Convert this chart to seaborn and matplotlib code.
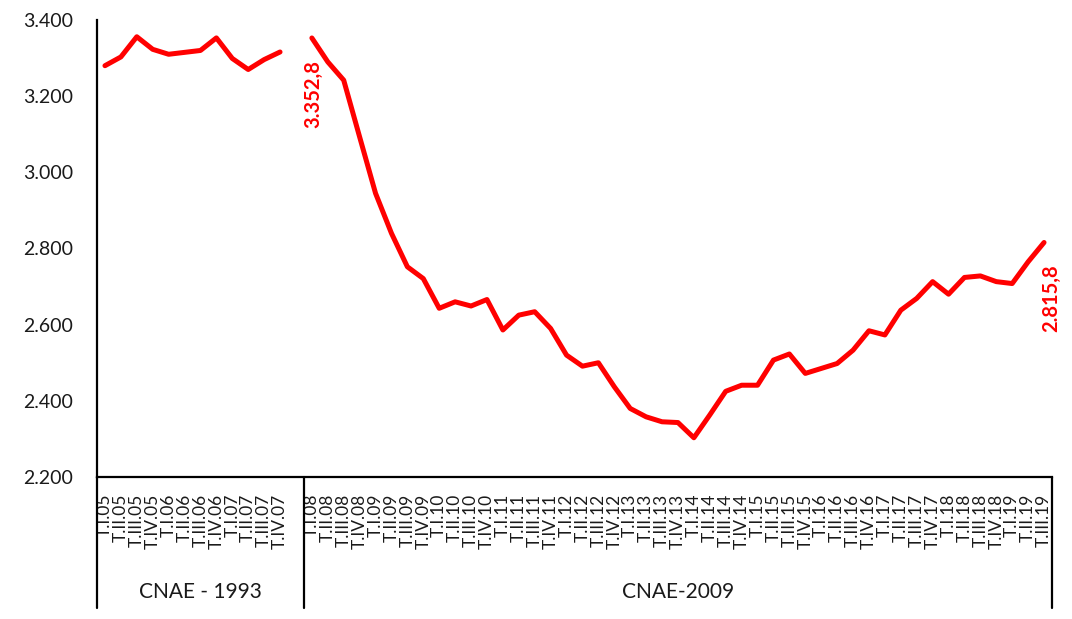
import numpy as np
import pandas as pd
import matplotlib
matplotlib.use("Agg")
import matplotlib.pyplot as plt
import matplotlib.transforms as mtransforms
import seaborn as sns

# ---- data ----
labels_1993 = ["T.I.05", "T.II.05", "T.III.05", "T.IV.05",
               "T.I.06", "T.II.06", "T.III.06", "T.IV.06",
               "T.I.07", "T.II.07", "T.III.07", "T.IV.07"]
values_1993 = [3280, 3303, 3356, 3323, 3310, 3315, 3320, 3353,
               3299, 3270, 3296, 3316]

labels_2009 = ["T.I.08", "T.II.08", "T.III.08", "T.IV.08",
               "T.I.09", "T.II.09", "T.III.09", "T.IV.09",
               "T.I.10", "T.II.10", "T.III.10", "T.IV.10",
               "T.I.11", "T.II.11", "T.III.11", "T.IV.11",
               "T.I.12", "T.II.12", "T.III.12", "T.IV.12",
               "T.I.13", "T.II.13", "T.III.13", "T.IV.13",
               "T.I.14", "T.II.14", "T.III.14", "T.IV.14",
               "T.I.15", "T.II.15", "T.III.15", "T.IV.15",
               "T.I.16", "T.II.16", "T.III.16", "T.IV.16",
               "T.I.17", "T.II.17", "T.III.17", "T.IV.17",
               "T.I.18", "T.II.18", "T.III.18", "T.IV.18",
               "T.I.19", "T.II.19", "T.III.19"]
values_2009 = [3352.8, 3290, 3242, 3093, 2945, 2840, 2752, 2721,
               2643, 2660, 2649, 2666, 2586, 2625, 2634, 2590,
               2520, 2491, 2500, 2437, 2380, 2358, 2345, 2343,
               2303, 2363, 2425, 2441, 2441, 2507, 2523, 2472,
               2485, 2498, 2533, 2584, 2573, 2638, 2669, 2713,
               2680, 2724, 2728, 2713, 2708, 2765, 2815.8]

group_names = ["CNAE - 1993", "CNAE-2009"]
yticks = [2200, 2400, 2600, 2800, 3000, 3200, 3400]
first_label = "3.352,8"
last_label = "2.815,8"

# category axis: group 1, one blank slot, group 2
categories = labels_1993 + [""] + labels_2009
n1 = len(labels_1993) + 1
df = pd.DataFrame({
    "pos": list(range(len(labels_1993))) + list(range(n1, n1 + len(labels_2009))),
    "value": values_1993 + values_2009,
    "grupo": [group_names[0]] * len(values_1993) + [group_names[1]] * len(values_2009),
})

# ---- style ----
sns.set_theme(style="white")
plt.rcParams["font.family"] = ["Lato", "DejaVu Sans"]

fig = plt.figure(figsize=(10.72, 6.19), dpi=100)
ax = fig.add_axes([97 / 1072, 1 - 477 / 619, (1052 - 97) / 1072, (477 - 20) / 619])

sns.lineplot(data=df, x="pos", y="value", hue="grupo", palette=["#ff0000", "#ff0000"],
             linewidth=3.6, legend=False, ax=ax, solid_joinstyle="round",
             solid_capstyle="round")

ax.set_xlim(-0.5, len(categories) - 0.5)
ax.set_ylim(2200, 3400)
ax.set_yticks(yticks)
ax.set_yticklabels([f"{v:,}".replace(",", ".") for v in yticks])
ax.set_xticks(range(len(categories)))
ax.set_xticklabels(categories, rotation=90)
ax.tick_params(axis="y", length=0, pad=17, labelsize=14, labelcolor="#1a1a1a")
ax.tick_params(axis="x", length=0, pad=12, labelsize=12.5, labelcolor="#1a1a1a")
ax.set_xlabel("")
ax.set_ylabel("")

for s in ["top", "right"]:
    ax.spines[s].set_visible(False)
for s in ["left", "bottom"]:
    ax.spines[s].set_color("black")
    ax.spines[s].set_linewidth(1.6)

# group separators and labels below the category axis
trans = mtransforms.blended_transform_factory(ax.transData, ax.transAxes)
sep_positions = [-0.5, n1 - 0.5, len(categories) - 0.5]
for xp in sep_positions:
    ax.plot([xp, xp], [0, -0.287], color="black", lw=1.6, transform=trans, clip_on=False)
for i, name in enumerate(group_names):
    xc = (sep_positions[i] + sep_positions[i + 1]) / 2
    ax.text(xc, -0.252, name, transform=trans, ha="center", va="center",
            fontsize=15, color="#1a1a1a")

# data labels
ax.annotate(first_label, xy=(n1, values_2009[0]), xytext=(1, -16),
            textcoords="offset points", rotation=90, ha="center", va="top",
            fontsize=14.5, fontweight="bold", color="#ff0000")
ax.annotate(last_label, xy=(n1 + len(values_2009) - 1, values_2009[-1]), xytext=(5, -16),
            textcoords="offset points", rotation=90, ha="center", va="top",
            fontsize=14.5, fontweight="bold", color="#ff0000")

fig.savefig("out.png", dpi=100, facecolor="white")
